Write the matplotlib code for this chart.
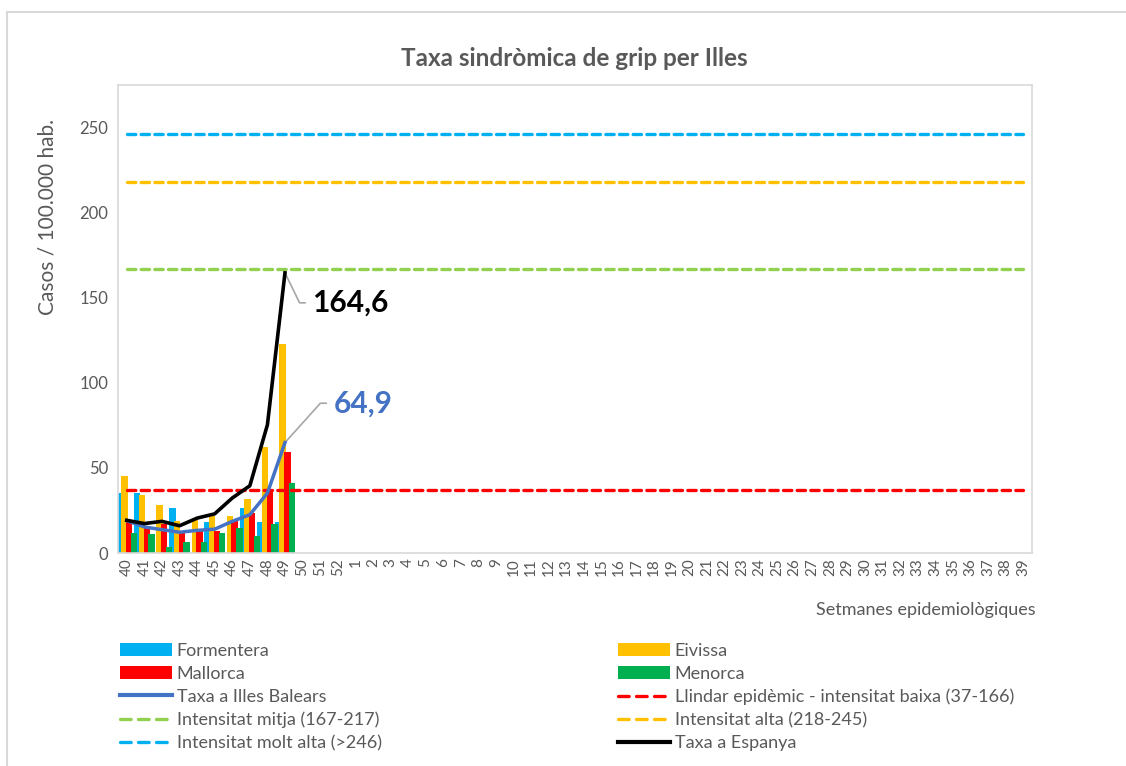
import numpy as np
import matplotlib.pyplot as plt
from matplotlib.patches import Patch, Rectangle
from matplotlib.lines import Line2D

plt.rcParams['font.family'] = ['Lato', 'DejaVu Sans']

weeks = [str(w) for w in range(40, 53)] + [str(w) for w in range(1, 40)]

# values read for weeks 40..49
formentera = [35.5, 35.0, 0, 26.4, 0, 18.0, 0, 26.4, 18.0, 18.0]
eivissa = [45.0, 34.2, 28.0, 18.6, 20.5, 21.7, 22.0, 31.5, 62.2, 122.7]
mallorca = [19.5, 15.5, 17.0, 12.5, 13.5, 13.0, 19.0, 23.5, 36.5, 59.2]
menorca = [11.5, 11.0, 3.8, 6.5, 6.5, 11.5, 14.8, 10.0, 17.0, 41.0]
taxa_balears = [19.0, 15.3, 13.7, 12.2, 13.3, 14.0, 18.6, 22.5, 35.2, 64.9]
taxa_espanya = [19.2, 17.3, 18.6, 16.0, 20.5, 23.0, 32.3, 39.5, 75.3, 164.6]

thresholds = [37, 167, 218, 246]
threshold_labels = ['Llindar epidèmic - intensitat baixa (37-166)',
                    'Intensitat mitja (167-217)',
                    'Intensitat alta (218-245)',
                    'Intensitat molt alta (>246)']
threshold_colors = ['#FF0000', '#92D050', '#FFC000', '#00B0F0']

GRAY = '#595959'

fig = plt.figure(figsize=(11.26, 7.66), dpi=100)
fig.patches.append(Rectangle((7 / 1126, -0.01), 1.2, (766 - 12) / 766 + 0.01,
                             transform=fig.transFigure, fill=False,
                             edgecolor='#D9D9D9', linewidth=1.5))
ax = fig.add_axes([118 / 1126, 1 - 553 / 766, (1032 - 118) / 1126, (553 - 85) / 766])

x = np.arange(len(weeks))
xb = np.arange(len(eivissa))
off = 0.27
w = 0.36
series = [(formentera, '#00B0F0', 'Formentera'),
          (eivissa, '#FFC000', 'Eivissa'),
          (mallorca, '#FF0000', 'Mallorca'),
          (menorca, '#00B050', 'Menorca')]
for i, (vals, col, lab) in enumerate(series):
    ax.bar(xb + (i - 1.5) * off, vals, width=w, color=col, zorder=2)

for val, col in zip(thresholds, threshold_colors):
    ax.plot([x[0], x[-1]], [val, val], color=col, lw=2.4,
            dashes=(2.5, 1.6), dash_capstyle='round', zorder=3)

ax.plot(xb, taxa_balears, color='#4472C4', lw=2.5, zorder=4)
ax.plot(xb, taxa_espanya, color='black', lw=2.6, zorder=5)

# data labels with leader lines
last = xb[-1]
ax.annotate('164,6', xy=(last, taxa_espanya[-1]), xytext=(last + 1.55, 147),
            fontsize=21.5, fontweight='bold', color='black', va='center', ha='left',
            arrowprops=dict(arrowstyle='-', color='#A6A6A6', lw=1.2,
                            connectionstyle='angle,angleA=0,angleB=-64,rad=0',
                            shrinkA=3, shrinkB=1))
ax.annotate('64,9', xy=(last, taxa_balears[-1]), xytext=(last + 2.75, 88),
            fontsize=21.5, fontweight='bold', color='#4472C4', va='center', ha='left',
            arrowprops=dict(arrowstyle='-', color='#A6A6A6', lw=1.2,
                            connectionstyle='angle,angleA=0,angleB=48,rad=0',
                            shrinkA=3, shrinkB=1))

ax.set_xlim(-0.5, len(weeks) - 0.5)
ax.set_ylim(0, 275)
ax.set_xticks(x)
ax.set_xticklabels(weeks, rotation=90, fontsize=11, color=GRAY)
ax.set_yticks(range(0, 251, 50))
ax.set_yticklabels([str(v) for v in range(0, 251, 50)], fontsize=12, color=GRAY)
ax.tick_params(axis='both', length=0, pad=7)
ax.tick_params(axis='x', pad=4)
for s in ax.spines.values():
    s.set_color('#D9D9D9')
    s.set_linewidth(1.2)

fig.text(574 / 1126, 1 - 58 / 766, 'Taxa sindròmica de grip per Illes',
         ha='center', va='center', fontsize=17.5, fontweight='bold', color=GRAY)
fig.text(48 / 1126, 1 - 217 / 766, 'Casos / 100.000 hab.', rotation=90,
         ha='center', va='center', fontsize=15, color=GRAY)
fig.text(1036 / 1126, 1 - 610 / 766, 'Setmanes epidemiològiques',
         ha='right', va='center', fontsize=13, color=GRAY)

def dash_handle(col):
    return Line2D([], [], color=col, lw=2.4, dashes=(3.2, 2.2), dash_capstyle='round')

h_col1 = [Patch(facecolor='#00B0F0', label='Formentera'),
          Patch(facecolor='#FF0000', label='Mallorca'),
          Line2D([], [], color='#4472C4', lw=3, label='Taxa a Illes Balears'),
          dash_handle('#92D050'),
          dash_handle('#00B0F0')]
l_col1 = ['Formentera', 'Mallorca', 'Taxa a Illes Balears',
          threshold_labels[1], threshold_labels[3]]
h_col2 = [Patch(facecolor='#FFC000'),
          Patch(facecolor='#00B050'),
          dash_handle('#FF0000'),
          dash_handle('#FFC000'),
          Line2D([], [], color='black', lw=3)]
l_col2 = ['Eivissa', 'Menorca', threshold_labels[0], threshold_labels[2],
          'Taxa a Espanya']

leg_kw = dict(loc='upper left', frameon=False, fontsize=13, handlelength=2.9,
              handleheight=0.75, handletextpad=0.25, labelspacing=0.38,
              borderpad=0, borderaxespad=0, labelcolor=GRAY)
fig.legend(h_col1, l_col1, bbox_to_anchor=(120 / 1126, 1 - 643 / 766), **leg_kw)
fig.legend(h_col2, l_col2, bbox_to_anchor=(618 / 1126, 1 - 643 / 766), **leg_kw)

fig.savefig('out.png', dpi=100)
